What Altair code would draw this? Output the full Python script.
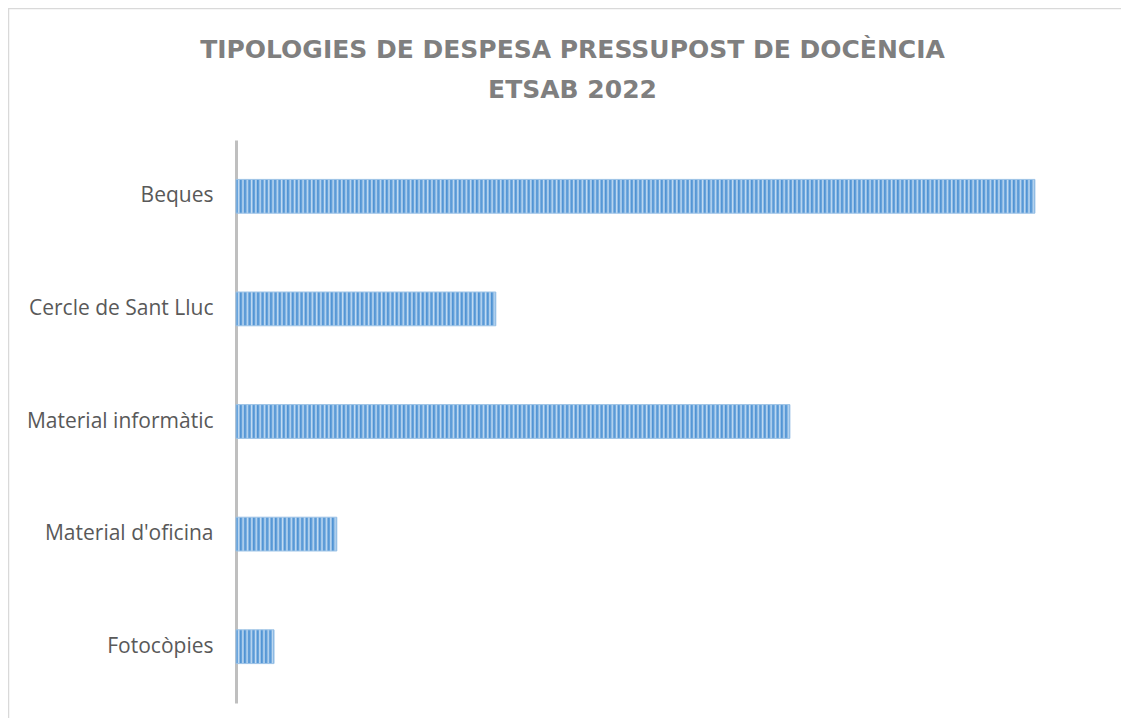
import altair as alt
import pandas as pd

categories = ["Beques", "Cercle de Sant Lluc", "Material informàtic", "Material d'oficina", "Fotocòpies"]
values = [21000, 6830, 14560, 2650, 1000]

title_lines = ["TIPOLOGIES DE DESPESA PRESSUPOST DE DOCÈNCIA", "ETSAB 2022"]

X_MAX = 23000
W = 875
H = 563
STRIPE = 4.3

df = pd.DataFrame({"cat": categories, "val": values})

x_enc = alt.X("val:Q", axis=None, scale=alt.Scale(domain=[0, X_MAX], nice=False))
y_enc = alt.Y(
    "cat:N",
    sort=categories,
    scale=alt.Scale(domain=categories, paddingInner=0.7, paddingOuter=0.35),
    axis=alt.Axis(
        title=None,
        ticks=False,
        domainColor="#bfbfbf",
        domainWidth=3,
        labelFontSize=21,
        labelFont="Open Sans",
        labelColor="#595959",
        labelPadding=23,
        labelLimit=400,
        grid=False,
    ),
)


def stripes(px):
    n = max(1, round(px / STRIPE))
    stops = []
    for i in range(n):
        stops.append({"offset": i / n, "color": "#4f92d3"})
        stops.append({"offset": (i + 0.35) / n, "color": "#6aa5dc"})
        stops.append({"offset": (i + 0.6) / n, "color": "#c4dcf2"})
        stops.append({"offset": (i + 0.85) / n, "color": "#8ab8e4"})
    stops.append({"offset": 1.0, "color": "#4f92d3"})
    return {"gradient": "linear", "x1": 0, "x2": 1, "y1": 0, "y2": 0, "stops": stops}


frame = alt.Chart(alt.Data(values=[{}])).mark_rect(
    fill="white", fillOpacity=0, stroke="#d9d9d9", strokeWidth=1.5
).encode(
    x=alt.value(-227.5), y=alt.value(-131.5), x2=alt.value(1200), y2=alt.value(700)
)

layers = [frame]
for c, v in zip(categories, values):
    px = v * W / X_MAX
    layers.append(
        alt.Chart(df)
        .transform_filter(alt.datum.cat == c)
        .mark_bar(color=stripes(px), stroke="#9dc3e6", strokeWidth=1)
        .encode(x=x_enc, y=y_enc)
    )

chart = (
    alt.layer(*layers)
    .properties(
        width=W,
        height=H,
        title=alt.TitleParams(
            text=title_lines,
            font="DejaVu Sans",
            fontSize=25,
            fontWeight="bold",
            color="#7f7f7f",
            anchor="middle",
            frame="group",
            dx=-101,
            dy=95,
            offset=0,
            lineHeight=40,
        ),
        autosize=alt.AutoSizeParams(type="none"),
        padding={"left": 228, "top": 132, "right": 10, "bottom": 15},
    )
    .configure_view(stroke=None)
)

chart.save("out.html", embed_options={"renderer": "svg", "actions": False})
